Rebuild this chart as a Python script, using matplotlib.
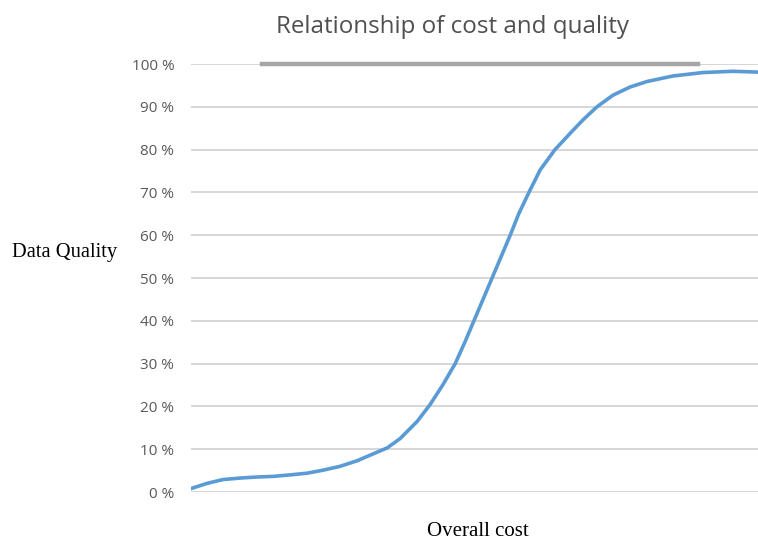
import matplotlib.pyplot as plt

# overall cost (arbitrary units, 0-100 across the plot) vs data quality in percent
cost = [0, 2.8, 5.6, 8.6, 11.6, 14.5, 17.5, 20.5, 23.3, 26.3, 29.3, 32.1,
        34.6, 36.9, 39.9, 42.2, 44.4, 46.6, 48.3, 49.9, 51.5, 53.1, 54.7,
        56.3, 57.8, 59.6, 61.6, 64.2, 66.8, 69.1, 71.6, 74.4, 77.4, 80.4,
        85.0, 90.3, 95.6, 100]
quality = [0.8, 2.0, 2.9, 3.25, 3.5, 3.65, 4.0, 4.4, 5.1, 6.0, 7.3, 8.9,
           10.3, 12.5, 16.5, 20.5, 25, 30, 35, 40, 45, 50, 55,
           60, 65, 70, 75.3, 80, 83.7, 86.9, 90, 92.7, 94.6, 95.9,
           97.2, 98.0, 98.3, 98.1]

# the flat grey series sitting on the 100 % line
ceiling_cost = [12.5, 89.4]
ceiling_quality = [100, 100]

yticks = [0, 10, 20, 30, 40, 50, 60, 70, 80, 90, 100]
ytick_labels = [f"{t} %" for t in yticks]

fig = plt.figure(figsize=(7.58, 5.41), dpi=100)
ax = fig.add_axes([191 / 758, 1 - 492 / 541, 1 - 191 / 758, (492 - 64) / 541])

ax.plot(cost, quality, color="#5b9bd5", lw=2.6, solid_capstyle="round",
        solid_joinstyle="round", zorder=3)
ax.plot(ceiling_cost, ceiling_quality, color="#a5a5a5", lw=3.2, clip_on=False, zorder=2)

ax.set_xlim(0, 100)
ax.set_ylim(0, 100)
ax.set_yticks(yticks)
ax.set_yticklabels(ytick_labels, fontfamily="Open Sans", fontsize=11, color="#595959")
ax.set_xticks([])
ax.tick_params(axis="y", length=0, pad=12)
ax.grid(axis="y", color="#d0d0d0", lw=1.2)
for s in ax.spines.values():
    s.set_visible(False)

fig.text(452 / 758, 1 - 27 / 541, "Relationship of cost and quality", ha="center", va="center",
         fontfamily="Open Sans", fontsize=17.4, color="#505050")
fig.text(12 / 758, 1 - 253 / 541, "Data Quality", ha="left", va="center",
         fontfamily="Liberation Serif", fontsize=14.8, color="black")
fig.text(478 / 758, 1 - 531 / 541, "Overall cost", ha="center", va="center",
         fontfamily="Liberation Serif", fontsize=15, color="black")

fig.savefig("out.png", dpi=100)
